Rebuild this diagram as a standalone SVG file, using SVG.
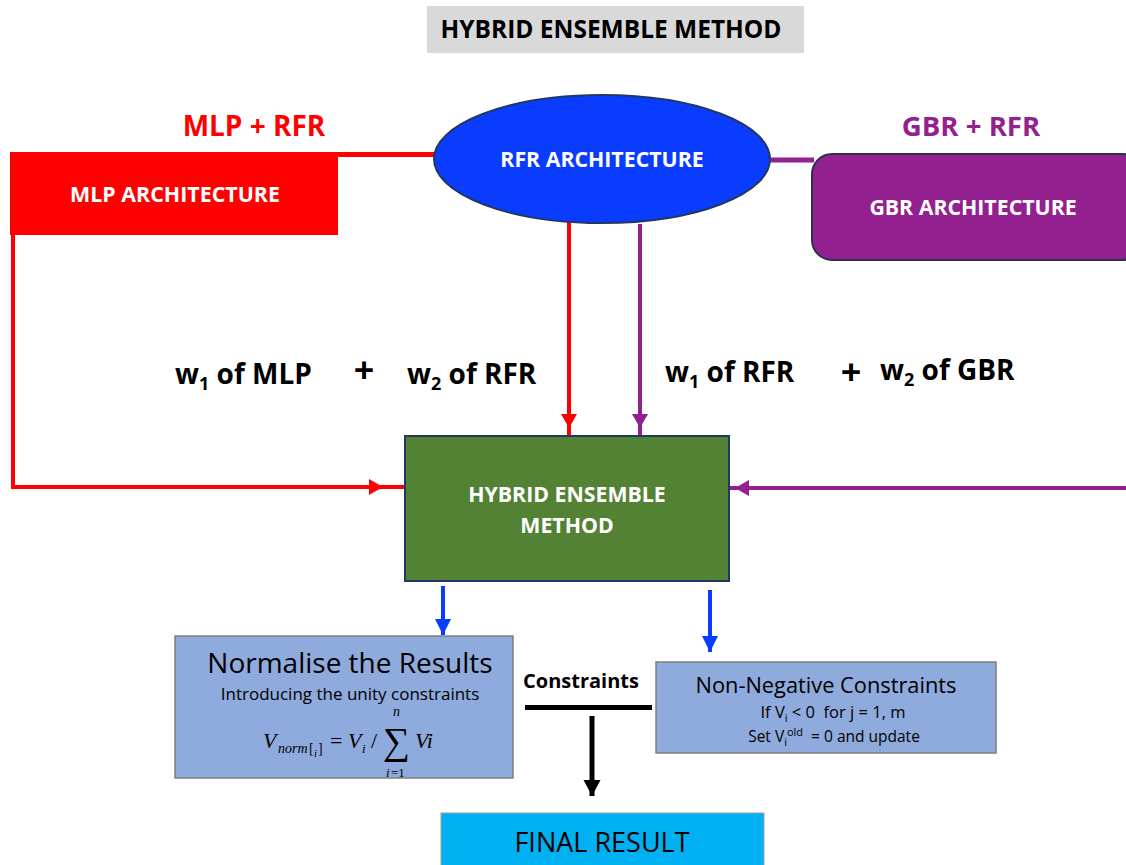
<svg xmlns="http://www.w3.org/2000/svg" width="1126" height="865" viewBox="0 0 1126 865">
<style>
.b{font-family:"Open Sans","Liberation Sans",sans-serif;font-weight:bold}
.r{font-family:"Open Sans","Liberation Sans",sans-serif}
.m{font-family:"Liberation Serif","DejaVu Serif",serif;font-style:italic}
.w{fill:#fff}
</style>
<defs>
<marker id="ar" markerWidth="4" markerHeight="4" refX="3.5" refY="2" orient="auto" markerUnits="strokeWidth"><path d="M0,0 L3.5,2 L0,4 Z" fill="#ff0000"/></marker>
<marker id="ap" markerWidth="4" markerHeight="4" refX="3.5" refY="2" orient="auto" markerUnits="strokeWidth"><path d="M0,0 L3.5,2 L0,4 Z" fill="#92208f"/></marker>
<marker id="ab" markerWidth="4" markerHeight="4" refX="4" refY="2" orient="auto" markerUnits="strokeWidth"><path d="M0,0 L4,2 L0,4 Z" fill="#0a3cff"/></marker>
<marker id="ak" markerWidth="4" markerHeight="4" refX="3.2" refY="1.7" orient="auto" markerUnits="strokeWidth"><path d="M0,0 L3.2,1.7 L0,3.4 Z" fill="#000"/></marker>
</defs>

<g id="title">
<rect x="427" y="6" width="377" height="47" fill="#d9d9d9"/>
<text x="611" y="38" text-anchor="middle" class="b" font-size="24.5" fill="#000">HYBRID ENSEMBLE METHOD</text>
</g>

<g id="connectors" fill="none">
<path d="M10,154.5 H436" stroke="#ff0000" stroke-width="5"/>
<path d="M13,233 V487 H383" stroke="#ff0000" stroke-width="4" marker-end="url(#ar)"/>
<path d="M380,487 H405" stroke="#ff0000" stroke-width="4"/>
<path d="M569,222 V428" stroke="#ff0000" stroke-width="4" marker-end="url(#ar)"/>
<path d="M569,425 V436" stroke="#ff0000" stroke-width="4"/>
<path d="M769,160 H814" stroke="#92208f" stroke-width="5"/>
<path d="M640,224 V428" stroke="#92208f" stroke-width="4" marker-end="url(#ap)"/>
<path d="M640,425 V436" stroke="#92208f" stroke-width="4"/>
<path d="M1126,488 H735" stroke="#92208f" stroke-width="4" marker-end="url(#ap)"/>
<path d="M738,488 H729" stroke="#92208f" stroke-width="4"/>
<path d="M443,586 V635" stroke="#0a3cff" stroke-width="4" marker-end="url(#ab)"/>
<path d="M710,590 V652" stroke="#0a3cff" stroke-width="4" marker-end="url(#ab)"/>
<path d="M525,707.5 H652" stroke="#000" stroke-width="5"/>
<path d="M592,716 V796" stroke="#000" stroke-width="5" marker-end="url(#ak)"/>
</g>

<g id="mlp">
<rect x="10" y="152" width="328" height="83" fill="#ff0000"/>
<text x="175" y="202" text-anchor="middle" class="b w" font-size="21.4">MLP ARCHITECTURE</text>
<text x="254" y="136" text-anchor="middle" class="b" font-size="28" fill="#ff0000">MLP + RFR</text>
</g>

<g id="rfr">
<ellipse cx="602" cy="159" rx="168" ry="64" fill="#0a3cff" stroke="#1f3864" stroke-width="2"/>
<text x="602" y="167" text-anchor="middle" class="b w" font-size="21.3">RFR ARCHITECTURE</text>
</g>

<g id="gbr">
<rect x="812" y="154" width="330" height="106" rx="20" fill="#92208f" stroke="#2f2f4f" stroke-width="2"/>
<text x="973" y="215" text-anchor="middle" class="b w" font-size="21.3">GBR ARCHITECTURE</text>
<text x="971" y="136" text-anchor="middle" class="b" font-size="27.6" fill="#92208f">GBR + RFR</text>
</g>

<g id="weights" class="b" font-size="28" fill="#000">
<text x="175" y="384">w<tspan font-size="18" dy="6">1</tspan><tspan dy="-6"> of MLP</tspan></text>
<text x="364" y="383" text-anchor="middle" font-size="36">+</text>
<text x="407" y="384">w<tspan font-size="18" dy="6">2</tspan><tspan dy="-6"> of RFR</tspan></text>
<text x="665" y="382">w<tspan font-size="18" dy="6">1</tspan><tspan dy="-6"> of RFR</tspan></text>
<text x="851" y="385" text-anchor="middle" font-size="36">+</text>
<text x="880" y="380">w<tspan font-size="18" dy="6">2</tspan><tspan dy="-6"> of GBR</tspan></text>
</g>

<g id="hybrid">
<rect x="405" y="436" width="324" height="145" fill="#548235" stroke="#1f3864" stroke-width="2"/>
<text x="567" y="502" text-anchor="middle" class="b w" font-size="21.3">HYBRID ENSEMBLE</text>
<text x="567" y="533" text-anchor="middle" class="b w" font-size="21.3">METHOD</text>
</g>

<g id="normalise">
<rect x="175" y="636" width="338" height="142" fill="#8faadc" stroke="#7f7f7f" stroke-width="1.5"/>
<text x="350" y="673" text-anchor="middle" class="r" font-size="28" fill="#000">Normalise the Results</text>
<text x="350" y="700" text-anchor="middle" class="r" font-size="17" fill="#000">Introducing the unity constraints</text>
<g class="m" fill="#000">
<text x="263" y="748" font-size="22">V</text>
<text x="278" y="753" font-size="14">norm</text>
<text x="309" y="753" font-size="14" font-style="normal">[</text>
<text x="314" y="757" font-size="11">i</text>
<text x="318" y="753" font-size="14" font-style="normal">]</text>
<text x="330" y="748" font-size="22" font-style="normal">=</text>
<text x="348" y="748" font-size="22">V</text>
<text x="362" y="753" font-size="13">i</text>
<text x="371" y="748" font-size="22" font-style="normal">/</text>
<text x="383" y="754" font-size="38" font-style="normal">∑</text>
<text x="393" y="716" font-size="14">n</text>
<text x="386" y="777" font-size="13">i</text>
<text x="391" y="777" font-size="13" font-style="normal">=1</text>
<text x="415" y="748" font-size="22">Vi</text>
</g>
</g>

<g id="constraints-label">
<text x="581" y="688" text-anchor="middle" class="b" font-size="20" fill="#000">Constraints</text>
</g>

<g id="nonneg">
<rect x="656" y="662" width="340" height="91" fill="#8faadc" stroke="#7f7f7f" stroke-width="1.5"/>
<text x="826" y="693" text-anchor="middle" class="r" font-size="21.8" fill="#000">Non-Negative Constraints</text>
<text x="833" y="718" text-anchor="middle" class="r" font-size="16.5" fill="#000" xml:space="preserve">If V<tspan font-size="11" dy="4">i</tspan><tspan dy="-4"> &lt; 0  for j = 1, m</tspan></text>
<text x="834" y="742" text-anchor="middle" class="r" font-size="15.5" fill="#000" xml:space="preserve">Set V<tspan font-size="11" dy="4">i</tspan><tspan font-size="11" dy="-10">old</tspan><tspan dy="6">  = 0 and update</tspan></text>
</g>

<g id="final">
<rect x="441" y="813" width="323" height="60" fill="#00b0f0" stroke="#a0a0a0" stroke-width="1"/>
<text x="602" y="852" text-anchor="middle" class="r" font-size="27" fill="#000">FINAL RESULT</text>
</g>
</svg>
